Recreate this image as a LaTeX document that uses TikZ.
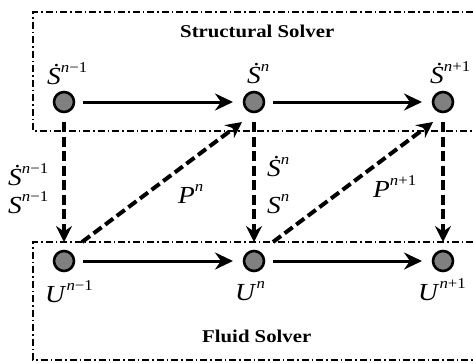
\documentclass[tikz,border=0pt]{standalone}
\usepackage{fontspec}
\setmainfont{Liberation Serif}
\usepackage{tikz}
\usetikzlibrary{calc, arrows.meta}
\newcommand{\tv}[2]{\textit{#1}\raisebox{11.5pt}{\fontsize{15}{15}\selectfont\textit{n}#2}}
\tikzset{
    every node/.append style={font=\fontsize{24.5}{28}\selectfont},
    state/.style={circle, draw, fill=gray, line width=2.6pt, minimum size=20pt, inner sep=0pt},
    lbl/.style={anchor=base west, inner sep=0pt, xscale=1.12, transform shape},
    title/.style={lbl, xscale=1.03, font=\fontsize{18}{20}\selectfont\bfseries},
    flow/.style={-{Stealth[length=18pt, width=17pt, inset=6pt]}, line width=3pt, shorten <=7.7pt, shorten >=9.7pt},
    pass/.style={-{Stealth[length=16pt, width=16pt, inset=5.5pt]}, line width=4pt, dash pattern=on 10pt off 4.5pt},
    solver/.style={line width=1.3pt, dash pattern=on 7pt off 3pt on 1.5pt off 3pt}
}

\begin{document}
\begin{tikzpicture}[x=1pt, y=1pt]
    \useasboundingbox (0,0) rectangle (473,-362);
    % solver regions
    \draw[solver] (473,-12) -| (33,-131) -- (473,-131);
    \draw[solver] (473,-242) -| (33,-360) -- (473,-360);
    \node[title] (struct) at (180,-37) {Structural Solver};
    \node[title] (fluid) at (202,-342) {Fluid Solver};
    % time levels
    \foreach \i/\x in {1/64, 2/254, 3/443} {
        \node[state] (s\i) at (\x,-102) {};
        \node[state] (u\i) at (\x,-261) {};
    }
    \node[lbl] (ls1) at (47,-84) {\tv{\.S}{−1}};
    \node[lbl] (ls2) at (247,-83) {\tv{\.S}{}};
    \node[lbl] (ls3) at (430,-83) {\tv{\.S}{+1}};
    \node[lbl] (lu1) at (45,-302) {\tv{U}{−1}};
    \node[lbl] (lu2) at (235,-300) {\tv{U}{}};
    \node[lbl] (lu3) at (418,-300) {\tv{U}{+1}};
    % solver steps
    \draw[flow] (s1) -- (s2);
    \draw[flow] (s2) -- (s3);
    \draw[flow] (u1) -- (u2);
    \draw[flow] (u2) -- (u3);
    % coupling
    \draw[pass, shorten <=8.7pt, shorten >=7.7pt] (s1) -- (u1);
    \draw[pass, shorten <=8.7pt, shorten >=7.7pt] (s2) -- (u2);
    \draw[pass, shorten <=8.7pt, shorten >=7.7pt] (s3) -- (u3);
    \draw[pass] ($(u1)+(18,19)$) -- ($(s2)+(-12,-20)$);
    \draw[pass] ($(u2)+(19,19)$) -- ($(s3)+(-10,-20)$);
    \node[lbl] (a1) at (8,-185) {\tv{\.S}{−1}};
    \node[lbl] (b1) at (8,-213) {\tv{S}{−1}};
    \node[lbl] (a2) at (267,-176) {\tv{\.S}{}};
    \node[lbl] (b2) at (267,-213) {\tv{S}{}};
    \node[lbl] (p1) at (178,-203) {\tv{P}{}};
    \node[lbl] (p2) at (373,-197) {\tv{P}{+1}};
\end{tikzpicture}
\end{document}
